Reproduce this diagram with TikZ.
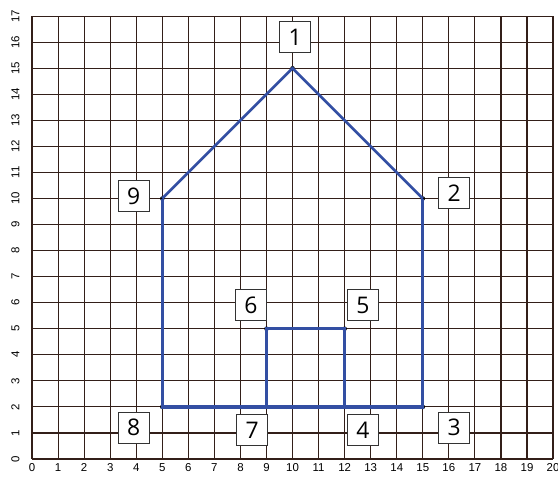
\documentclass[tikz,border=0pt]{standalone}
\usepackage{fontspec}
\setmainfont{Liberation Sans}
\newfontfamily\tagfont{Open Sans}
\usetikzlibrary{positioning}
\definecolor{gridbrown}{rgb}{0.20,0.12,0.10}
\definecolor{houseblue}{rgb}{0.20,0.31,0.64}

\begin{document}
\begin{tikzpicture}[
    x=0.6cm, y=0.6cm,
    gridline/.style={draw=gridbrown, line width=0.75pt},
    house/.style={draw=houseblue, line width=2.1pt, line join=miter},
    roof/.style={draw=houseblue, line width=1.7pt},
    corner/.style={circle, fill=black, inner sep=0pt, minimum size=3pt},
    tag/.style={draw=black!80, fill=white, line width=0.65pt, minimum size=0.72cm, inner sep=0pt, font=\tagfont\fontsize{15}{15}\selectfont},
    xlab/.style={font=\fontsize{7.5}{8}\selectfont},
    ylab/.style={font=\fontsize{7.5}{8}\selectfont, rotate=90},
]

\useasboundingbox[fill=white] (-1.23,-0.69) rectangle (20.19,17.62);

% Grid
\foreach \i in {0,...,20} {
  \draw[gridline] (\i,0) -- (\i,17);
  \node[xlab] (x\i) at (\i,-0.32) {\i};
}
\foreach \j in {0,...,17} {
  \draw[gridline] (0,\j) -- (20,\j);
  \node[ylab] (y\j) at (-0.64,\j) {\j};
}

% Vertices
\node[corner] (p1) at (10,15) {};
\node[corner] (p2) at (15,10) {};
\node[corner] (p3) at (15,2) {};
\node[corner] (p4) at (12,2) {};
\node[corner] (p5) at (12,5) {};
\node[corner] (p6) at (9,5) {};
\node[corner] (p7) at (9,2) {};
\node[corner] (p8) at (5,2) {};
\node[corner] (p9) at (5,10) {};

% House outline
\draw[roof] (p9.center) -- (p1.center) -- (p2.center);
\draw[house] (p2.center) -- (p3.center) -- (p8.center) -- (p9.center);
\draw[house] (p7.center) -- (p6.center) -- (p5.center) -- (p4.center);

% Number tags
\node[tag] (t1) at (10.1,16.2) {1};
\node[tag] (t2) at (16.2,10.2) {2};
\node[tag] (t3) at (16.2,1.2) {3};
\node[tag] (t4) at (12.7,1.1) {4};
\node[tag] (t5) at (12.7,5.9) {5};
\node[tag] (t6) at (8.4,5.9) {6};
\node[tag] (t7) at (8.45,1.1) {7};
\node[tag] (t8) at (3.9,1.2) {8};
\node[tag] (t9) at (3.9,10.1) {9};

\end{tikzpicture}
\end{document}
